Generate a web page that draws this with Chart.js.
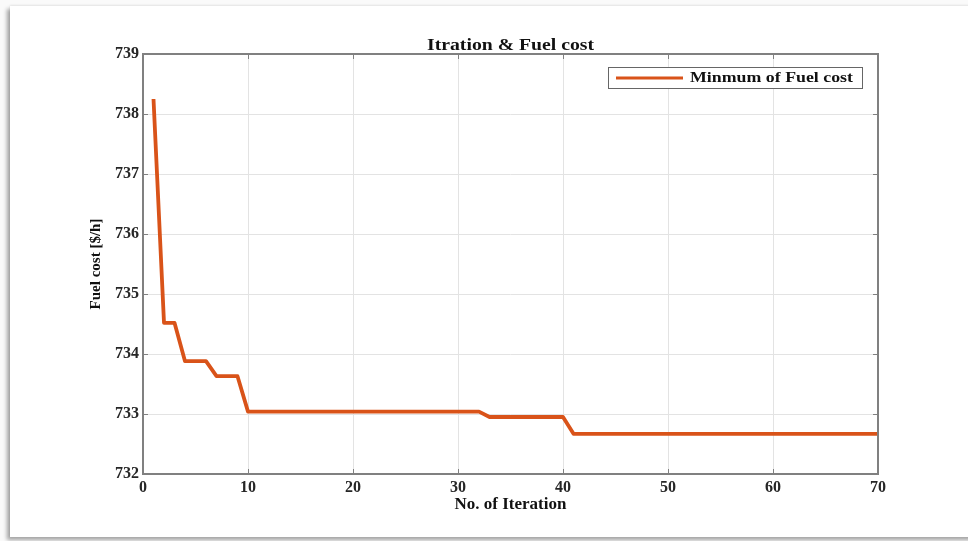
<!DOCTYPE html>
<html>
<head>
<meta charset="utf-8">
<script src="https://cdn.jsdelivr.net/npm/chart.js@4.4.1/dist/chart.umd.min.js"></script>
<style>
  html, body { margin: 0; padding: 0; background: #fafafa; width: 968px; height: 541px; overflow: hidden; }
  #card { position: absolute; left: 10px; top: 6px; width: 975px; height: 531px; background: #ffffff;
          box-shadow: -3px 3px 4px rgba(0,0,0,0.35), 0 -1px 2px rgba(0,0,0,0.08); }
  #wrap { position: absolute; left: 0; top: 0; width: 968px; height: 541px; }
</style>
</head>
<body>
<div id="card"></div>
<div id="wrap"><canvas id="c" width="968" height="541"></canvas></div>
<script>
// ---- data ----
const chartTitle = "Itration & Fuel cost";
const xAxisTitle = "No. of Iteration";
const yAxisTitle = "Fuel cost [$/h]";
const seriesLabel = "Minmum of Fuel cost";
const iterations = [1,2,3,4,5,6,7,8,9,10,11,12,13,14,15,16,17,18,19,20,21,22,23,24,25,26,27,28,29,30,
  31,32,33,34,35,36,37,38,39,40,41,42,43,44,45,46,47,48,49,50,51,52,53,54,55,56,57,58,59,60,
  61,62,63,64,65,66,67,68,69,70];
const fuelCost = [738.25,734.52,734.52,733.88,733.88,733.88,733.63,733.63,733.63,
  733.04,733.04,733.04,733.04,733.04,733.04,733.04,733.04,733.04,733.04,733.04,733.04,733.04,
  733.04,733.04,733.04,733.04,733.04,733.04,733.04,733.04,733.04,733.04,
  732.95,732.95,732.95,732.95,732.95,732.95,732.95,732.95,
  732.67,732.67,732.67,732.67,732.67,732.67,732.67,732.67,732.67,732.67,
  732.67,732.67,732.67,732.67,732.67,732.67,732.67,732.67,732.67,732.67,
  732.67,732.67,732.67,732.67,732.67,732.67,732.67,732.67,732.67,732.67];
const xTicks = [0,10,20,30,40,50,60,70];
const yTicks = [732,733,734,735,736,737,738,739];

const points = iterations.map((it, i) => ({x: it, y: fuelCost[i]}));
const serif = "'Liberation Serif', 'DejaVu Serif', serif";
const lineColor = "#D95319";
const axisColor = "#808080";

function stretchedText(ctx, text, x, y, targetWidth, align) {
  const w = ctx.measureText(text).width;
  const s = targetWidth / w;
  ctx.save();
  ctx.translate(x, y);
  ctx.scale(s, 1);
  ctx.textAlign = align;
  ctx.fillText(text, 0, 0);
  ctx.restore();
}

const boxPlugin = {
  id: 'boxPlugin',
  afterDatasetsDraw(chart) {
    const {ctx, chartArea: a, scales} = chart;
    ctx.save();
    // inward ticks
    ctx.strokeStyle = axisColor;
    ctx.lineWidth = 1;
    const tl = 5;
    xTicks.forEach(v => {
      const x = Math.round(scales.x.getPixelForValue(v)) + 0.5;
      ctx.beginPath();
      ctx.moveTo(x, a.bottom); ctx.lineTo(x, a.bottom - tl);
      ctx.moveTo(x, a.top); ctx.lineTo(x, a.top + tl);
      ctx.stroke();
    });
    yTicks.forEach(v => {
      const y = Math.round(scales.y.getPixelForValue(v)) + 0.5;
      ctx.beginPath();
      ctx.moveTo(a.left, y); ctx.lineTo(a.left + tl, y);
      ctx.moveTo(a.right, y); ctx.lineTo(a.right - tl, y);
      ctx.stroke();
    });
    // box
    ctx.lineWidth = 2;
    ctx.strokeRect(a.left, a.top, a.right - a.left, a.bottom - a.top);
    // title centred over the plot area
    ctx.fillStyle = '#111111';
    ctx.font = "bold 16px " + serif;
    ctx.textBaseline = 'alphabetic';
    stretchedText(ctx, chartTitle, (a.left + a.right) / 2, a.top - 4, 167, 'center');
    // legend
    const ds = chart.data.datasets[0];
    const lx = a.right - 270, ly = a.top + 13, lw = 254, lh = 21;
    ctx.fillStyle = '#ffffff';
    ctx.fillRect(lx, ly, lw, lh);
    ctx.lineWidth = 1;
    ctx.strokeStyle = '#666666';
    ctx.strokeRect(lx + 0.5, ly + 0.5, lw, lh);
    ctx.strokeStyle = ds.borderColor;
    ctx.lineWidth = 3;
    ctx.beginPath();
    ctx.moveTo(lx + 8, ly + lh / 2 + 0.5);
    ctx.lineTo(lx + 75, ly + lh / 2 + 0.5);
    ctx.stroke();
    ctx.fillStyle = '#111111';
    ctx.font = "bold 15px " + serif;
    ctx.textBaseline = 'middle';
    stretchedText(ctx, ds.label, lx + 82, ly + lh / 2 + 1, 163, 'left');
    ctx.restore();
  }
};

new Chart(document.getElementById('c'), {
  type: 'line',
  data: {
    datasets: [{
      label: seriesLabel,
      data: points,
      borderColor: lineColor,
      backgroundColor: lineColor,
      borderWidth: 3.8,
      pointRadius: 0,
      tension: 0,
      borderJoinStyle: 'round',
      borderCapStyle: 'butt'
    }]
  },
  options: {
    responsive: false,
    animation: false,
    layout: { padding: { left: 0, right: 90, top: 54, bottom: 0 } },
    plugins: {
      legend: { display: false },
      tooltip: { enabled: false },
      title: { display: false }
    },
    scales: {
      x: {
        type: 'linear',
        min: 0, max: 70,
        afterBuildTicks(scale) { scale.ticks = xTicks.map(v => ({value: v})); },
        afterFit(scale) { scale.height = 67; },
        grid: { color: '#e3e3e3', lineWidth: 1, drawTicks: false },
        border: { display: false },
        ticks: { color: '#262626', padding: 4, maxRotation: 0,
                 font: { family: serif, size: 16, weight: 'bold' } },
        title: { display: true, text: xAxisTitle, color: '#111111',
                 font: { family: serif, size: 17, weight: 'bold' },
                 padding: { top: 0, bottom: 26 } }
      },
      y: {
        type: 'linear',
        min: 732, max: 739,
        afterBuildTicks(scale) { scale.ticks = yTicks.map(v => ({value: v})); },
        afterFit(scale) { scale.width = 143; },
        grid: { color: '#e3e3e3', lineWidth: 1, drawTicks: false },
        border: { display: false },
        ticks: { color: '#262626', padding: 4,
                 font: { family: serif, size: 16, weight: 'bold' } },
        title: { display: true, text: yAxisTitle, color: '#111111',
                 font: { family: serif, size: 15, weight: 'bold' },
                 padding: { top: 87, bottom: 0 } }
      }
    }
  },
  plugins: [boxPlugin]
});
</script>
</body>
</html>
